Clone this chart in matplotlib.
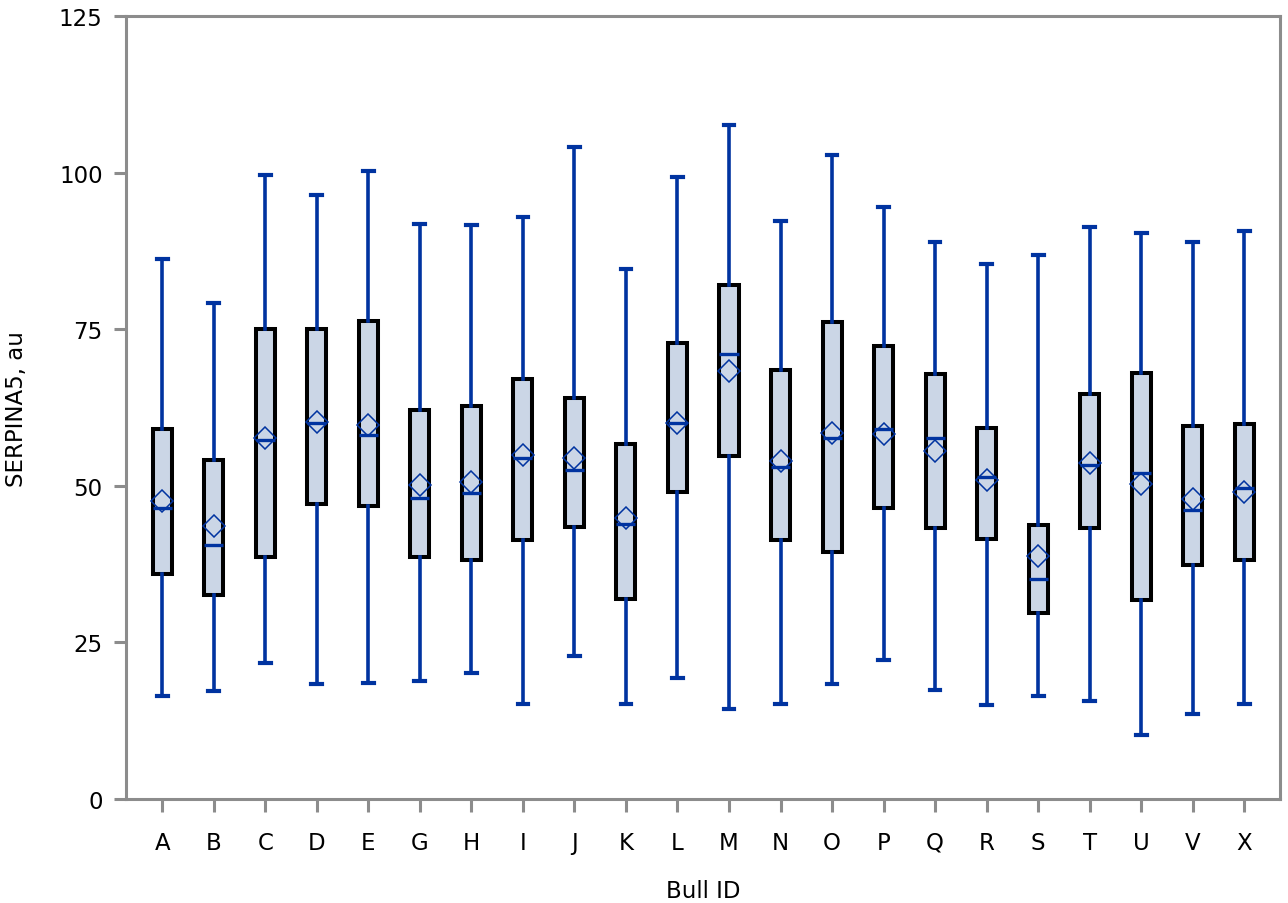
import matplotlib
matplotlib.use("Agg")
import matplotlib.pyplot as plt

plt.rcParams["font.family"] = ["DejaVu Sans"]

bulls = ["A", "B", "C", "D", "E", "G", "H", "I", "J", "K", "L",
         "M", "N", "O", "P", "Q", "R", "S", "T", "U", "V", "X"]

whisker_low = [16.4, 17.2, 21.8, 18.4, 18.6, 18.9, 20.2, 15.1, 22.8, 15.1, 19.3,
               14.3, 15.1, 18.3, 22.2, 17.4, 15.0, 16.5, 15.7, 10.3, 13.5, 15.2]
q1 = [35.9, 32.5, 38.6, 47.1, 46.8, 38.7, 38.2, 41.4, 43.5, 32.0, 49.1,
      54.7, 41.3, 39.5, 46.4, 43.3, 41.6, 29.7, 43.3, 31.8, 37.3, 38.1]
medians = [46.4, 40.6, 57.3, 60.1, 58.1, 48.1, 48.9, 54.4, 52.6, 43.9, 60.0,
           71.1, 53.0, 57.6, 59.1, 57.7, 51.4, 35.2, 53.4, 52.1, 46.1, 49.6]
means = [47.6, 43.6, 57.7, 60.2, 59.8, 50.1, 50.6, 54.9, 54.4, 44.8, 60.1,
         68.3, 53.9, 58.4, 58.3, 55.5, 50.9, 38.8, 53.7, 50.3, 47.9, 49.0]
q3 = [59.1, 54.1, 75.0, 75.0, 76.3, 62.1, 62.7, 67.1, 64.1, 56.7, 72.8,
      82.0, 68.5, 76.2, 72.4, 67.9, 59.2, 43.8, 64.6, 68.1, 59.6, 59.9]
whisker_high = [86.3, 79.2, 99.7, 96.4, 100.2, 91.8, 91.7, 93.0, 104.1, 84.7, 99.4,
                107.7, 92.3, 102.8, 94.5, 89.0, 85.5, 86.9, 91.4, 90.4, 89.0, 90.7]

stats = []
for i in range(len(bulls)):
    stats.append({
        "label": bulls[i],
        "whislo": whisker_low[i],
        "q1": q1[i],
        "med": medians[i],
        "mean": means[i],
        "q3": q3[i],
        "whishi": whisker_high[i],
        "fliers": [],
    })

blue = "#0033a0"
grey = "#8c8c8c"

fig = plt.figure(figsize=(12.88, 9.04), dpi=100)
ax = fig.add_axes([0.098, 0.115, 0.896, 0.866])

ax.bxp(stats, positions=range(len(bulls)), widths=0.37, capwidths=0.21,
       patch_artist=True, showmeans=True,
       boxprops=dict(facecolor="#cbd6e6", edgecolor="black", linewidth=2.9),
       whiskerprops=dict(color=blue, linewidth=2.6),
       capprops=dict(color=blue, linewidth=3.0),
       medianprops=dict(color=blue, linewidth=2.4),
       meanprops=dict(marker="D", markersize=11, markerfacecolor="none",
                      markeredgecolor=blue, markeredgewidth=1.1),
       zorder=3)

ax.set_xlim(-0.7, len(bulls) - 0.3)
ax.set_ylim(0, 125)
ax.set_yticks([0, 25, 50, 75, 100, 125])
ax.set_xticks(range(len(bulls)))
ax.set_xticklabels(bulls)

for s in ax.spines.values():
    s.set_color(grey)
    s.set_linewidth(2.2)
ax.tick_params(axis="both", color=grey, width=2.2, length=9, labelsize=16.5)
ax.tick_params(axis="x", pad=14)
ax.tick_params(axis="y", pad=8)

ax.set_xlabel("Bull ID", fontsize=16.5, labelpad=18)
ax.set_ylabel("SERPINA5, au", fontsize=16.5, labelpad=22)

fig.savefig("out.png", dpi=100)
